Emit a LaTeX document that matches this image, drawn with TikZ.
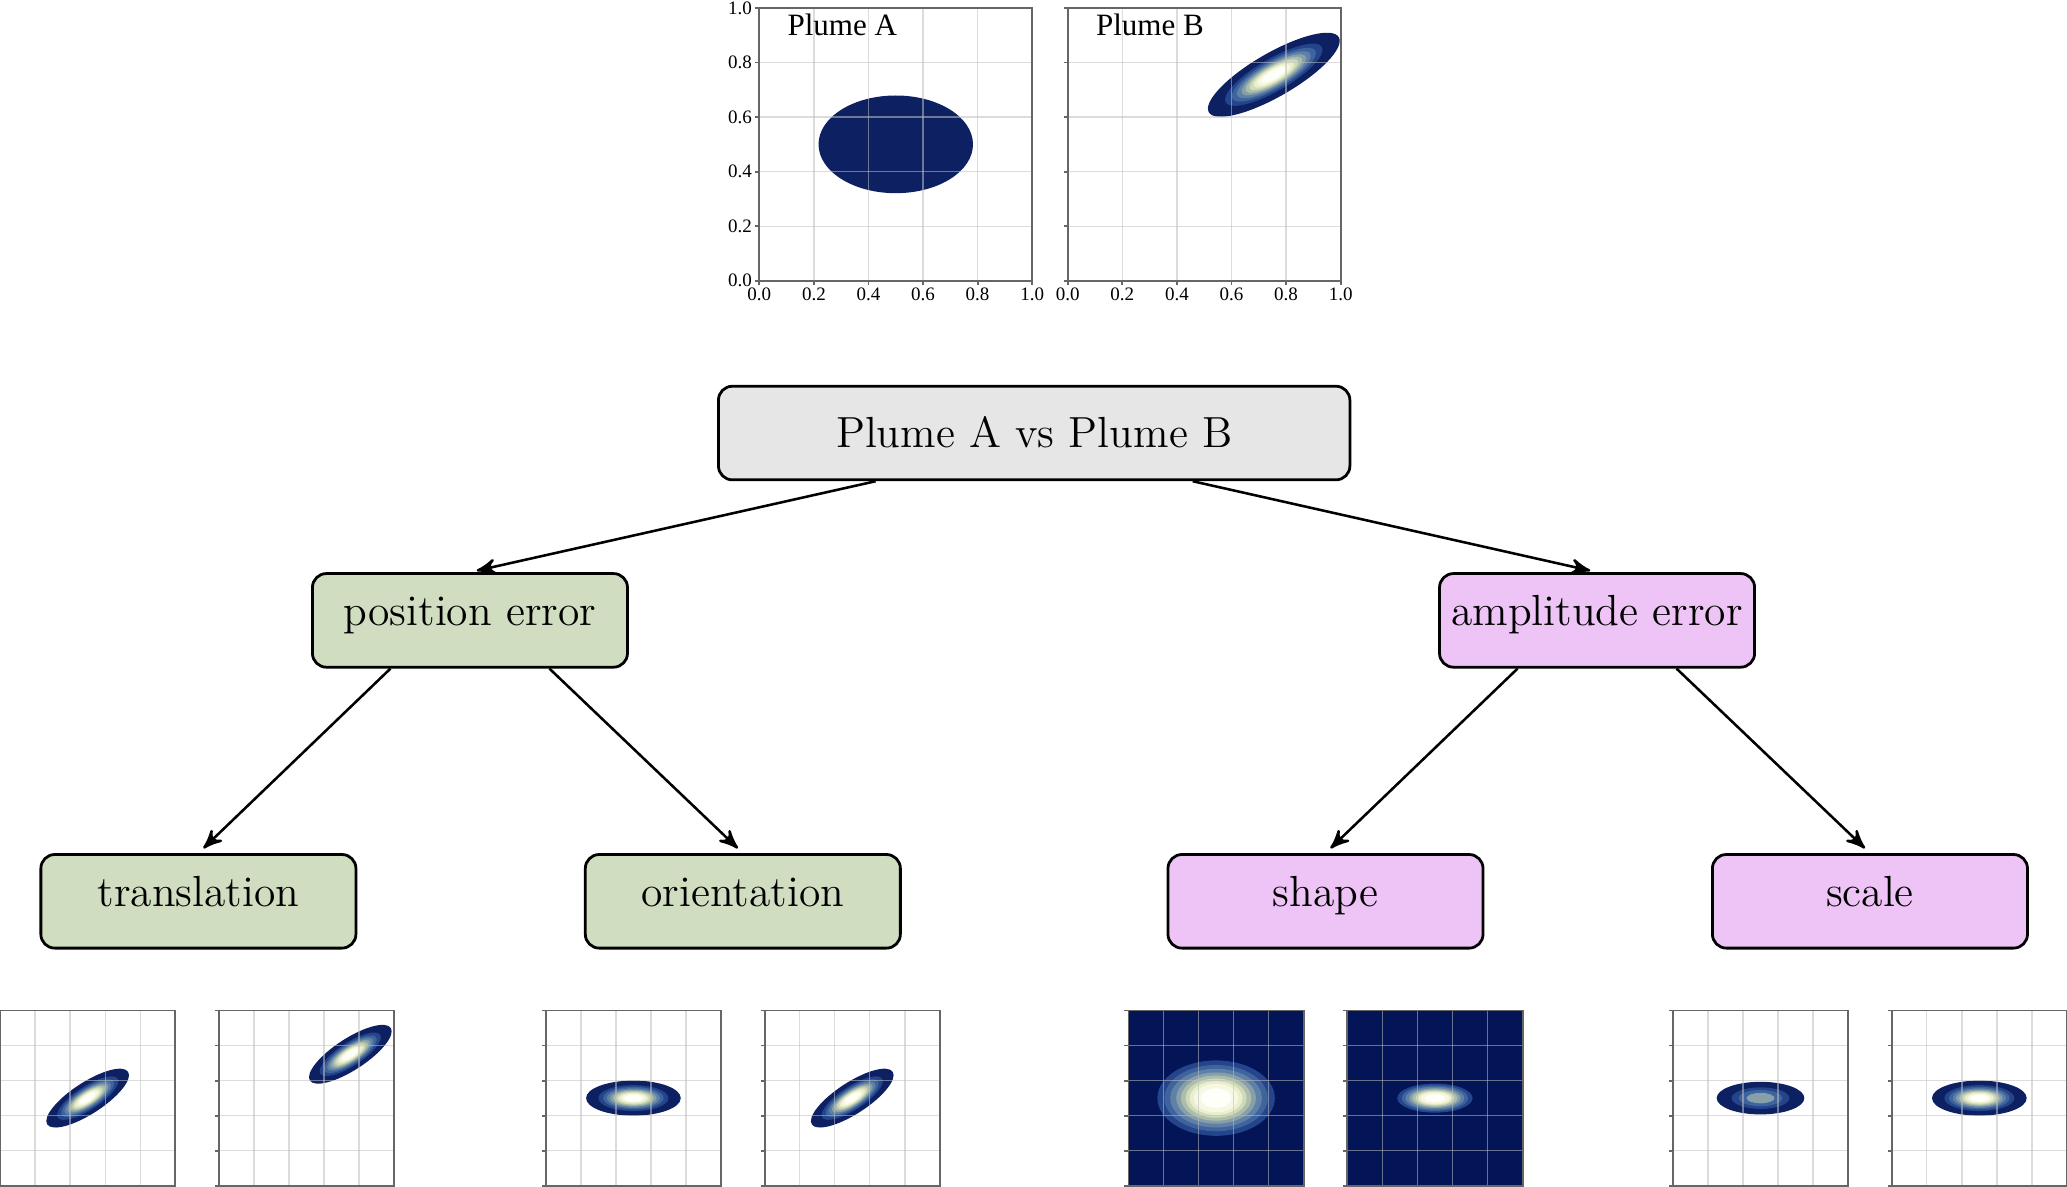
\documentclass[tikz,border=0pt]{standalone}
\usepackage{fontspec}
\usepackage{tikz}
\usetikzlibrary{arrows,positioning,calc}

\newfontfamily\boxfont{lmroman12-regular.otf}
\newfontfamily\plotfont{Liberation Serif}

\definecolor{rootgray}{RGB}{230,230,230}
\definecolor{posgreen}{RGB}{208,221,192}
\definecolor{amppink}{RGB}{237,196,245}
\definecolor{bgnavy}{RGB}{3,20,87}
\definecolor{pl0}{RGB}{12,32,98}
\definecolor{pl1}{RGB}{36,68,140}
\definecolor{pl2}{RGB}{62,99,157}
\definecolor{pl3}{RGB}{95,129,167}
\definecolor{pl4}{RGB}{134,159,169}
\definecolor{pl5}{RGB}{172,190,171}
\definecolor{pl6}{RGB}{207,218,184}
\definecolor{pl7}{RGB}{233,238,204}
\definecolor{pl8}{RGB}{247,248,228}
\definecolor{pl9}{RGB}{255,255,250}

% contour levels: scale/colour
\newcommand{\fulllevels}{1/pl0,0.74/pl1,0.64/pl2,0.56/pl3,0.49/pl4,0.43/pl5,0.37/pl6,0.31/pl7,0.25/pl8,0.19/pl9}
\newcommand{\lowlevels}{1/pl0,0.66/pl1,0.5/pl2,0.32/pl4}
\newcommand{\widelevels}{1/pl1,0.88/pl2,0.78/pl3,0.68/pl4,0.6/pl5,0.52/pl6,0.45/pl7,0.38/pl8,0.26/pl9}

% cx, cy, x radius, y radius, angle, levels
\newcommand{\plume}[6]{%
	\foreach \s/\c in #6 {\fill[\c,shift={(#1,#2)},rotate=#5] (0,0) ellipse [x radius=\s*#3,y radius=\s*#4];}}

\newcommand{\axgrid}{%
	\foreach \k in {1,...,4} {
		\draw[gridline] (\k*0.2,0) -- (\k*0.2,1);
		\draw[gridline] (0,\k*0.2) -- (1,\k*0.2);}
	\draw[axisline] (0,0) rectangle (1,1);
	\foreach \k in {0,...,5} {
		\draw[axisline] (\k*0.2,0) -- ++(0,-0.03cm);
		\draw[axisline] (0,\k*0.2) -- ++(-0.03cm,0);}}

\newcommand{\smallplot}[2]{%
	\begin{scope}[shift={(#1,0.005)},x=1.33cm,y=1.33cm]
		#2
		\axgrid
	\end{scope}}

\begin{document}
\begin{tikzpicture}
	[>=stealth',node distance=0.69cm,
		base node/.style={draw,rounded corners=3pt,line width=0.6pt,minimum width=2.39cm,minimum height=0.71cm,inner sep=0pt,text height=6.2pt,text depth=4pt,font=\boxfont\fontsize{9.4}{12}\selectfont},
		root node/.style={base node,fill=rootgray,minimum width=4.79cm,text depth=0pt},
		pos node/.style={base node,fill=posgreen},
		amp node/.style={base node,fill=amppink},
		gridline/.style={draw=black!25,draw opacity=0.55,line width=0.3pt},
		axisline/.style={draw=black!60,line width=0.4pt},
		tick label/.style={font=\plotfont\fontsize{4.1}{5}\selectfont,inner sep=0pt},
		plot title/.style={font=\plotfont\fontsize{6.7}{8}\selectfont,inner sep=0pt,anchor=base west}]

	\useasboundingbox (0,0) rectangle (15.68,9.00);

	% Plume A and Plume B
	\begin{scope}[shift={(5.76,6.87)},x=2.07cm,y=2.07cm]
		\fill[pl0] (0.5,0.5) ellipse [x radius=0.283,y radius=0.179];
		\axgrid
		\foreach \k/\t in {0/0.0,1/0.2,2/0.4,3/0.6,4/0.8,5/1.0} {
			\node[tick label,anchor=east,xshift=-0.05cm] at (0,\k*0.2) {\t};
			\node[tick label,anchor=north,yshift=-0.05cm] at (\k*0.2,0) {\t};}
		\node[plot title] at (0.1,0.9) {Plume A};
	\end{scope}
	\begin{scope}[shift={(8.10,6.87)},x=2.07cm,y=2.07cm]
		\plume{0.755}{0.755}{0.275}{0.08}{30}{\fulllevels}
		\axgrid
		\foreach \k/\t in {0/0.0,1/0.2,2/0.4,3/0.6,4/0.8,5/1.0} {
			\node[tick label,anchor=north,yshift=-0.05cm] at (\k*0.2,0) {\t};}
		\node[plot title] at (0.1,0.9) {Plume B};
	\end{scope}

	\node[root node] (R) at (7.845,5.715) {Plume A vs Plume B};
	\node[pos node] (P) [below=of R,xshift=-4.28cm] {position error};
	\node[amp node] (A) [below=of R,xshift=4.27cm] {amplitude error};
	\node[pos node] (T) [below=1.40cm of P,xshift=-2.06cm] {translation};
	\node[pos node] (O) [below=1.40cm of P,xshift=2.07cm] {orientation};
	\node[amp node] (Sh) [below=1.40cm of A,xshift=-2.06cm] {shape};
	\node[amp node] (Sc) [below=1.40cm of A,xshift=2.07cm] {scale};

	\path[->,shorten >=1.5pt,line width=0.55pt]
	($(R.south)!0.5!(R.south west)$) edge (P.north)
	($(R.south)!0.5!(R.south east)$) edge (A.north)
	($(P.south)!0.5!(P.south west)$) edge (T.north)
	($(P.south)!0.5!(P.south east)$) edge (O.north)
	($(A.south)!0.5!(A.south west)$) edge (Sh.north)
	($(A.south)!0.5!(A.south east)$) edge (Sc.north)
	;

	% small plots
	\smallplot{0}{\plume{0.5}{0.5}{0.275}{0.09}{33}{\fulllevels}}
	\smallplot{1.66}{\plume{0.75}{0.75}{0.275}{0.09}{33}{\fulllevels}}
	\smallplot{4.14}{\plume{0.5}{0.5}{0.27}{0.10}{0}{\fulllevels}}
	\smallplot{5.80}{\plume{0.5}{0.5}{0.275}{0.09}{33}{\fulllevels}}
	\smallplot{8.56}{\fill[bgnavy] (0,0) rectangle (1,1); \plume{0.5}{0.5}{0.335}{0.215}{0}{\widelevels}}
	\smallplot{10.22}{\fill[bgnavy] (0,0) rectangle (1,1); \plume{0.5}{0.5}{0.215}{0.083}{0}{\widelevels}}
	\smallplot{12.69}{\plume{0.5}{0.5}{0.25}{0.093}{0}{\lowlevels}}
	\smallplot{14.35}{\plume{0.5}{0.5}{0.27}{0.10}{0}{\fulllevels}}

\end{tikzpicture}
\end{document}
